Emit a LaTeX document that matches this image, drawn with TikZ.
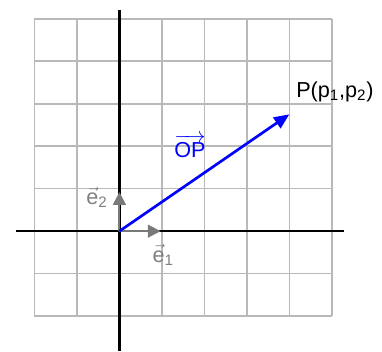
\documentclass[tikz,border=0pt]{standalone}
\usepackage{amsmath}
\usepackage{fontspec}
\setmainfont{Liberation Sans}
\usepackage{tikz}
\usetikzlibrary{arrows.meta, positioning}

\begin{document}
\begin{tikzpicture}[
    gridline/.style={draw=gray!55, line width=1.1pt},
    axis/.style={draw=black, line width=1.7pt},
    unitvec/.style={-{Triangle[length=0.3cm, width=0.3cm]}, draw=gray!95!black, fill=gray, line width=1.4pt},
    posvec/.style={-{Triangle[length=0.36cm, width=0.3cm]}, draw=blue, line width=1.8pt},
    lbl/.style={font=\fontsize{14.5}{17}\selectfont, inner sep=1pt}
]
\useasboundingbox (-2.81,-2.83) rectangle (6.18,5.44);

% === GRID ===
\draw[gridline] (-2,-2) grid (5,5);

% === AXES ===
\coordinate (O) at (0,0);
\coordinate (xl) at (-2.43,0);
\coordinate (xr) at (5.29,0);
\coordinate (yb) at (0,-2.83);
\coordinate (yt) at (0,5.2);
\draw[axis] (xl) -- (xr);
\draw[axis] (yb) -- (yt);

% === UNIT VECTORS ===
\coordinate (e1) at (0.97,0);
\coordinate (e2) at (0,0.92);
\draw[unitvec] (O) -- (e1);
\draw[unitvec] (O) -- (e2);
\node[lbl, text=gray] (e1lbl) at (1.03,-0.56) {$\vec{\text{e}}_{\text{1}}$};
\node[lbl, text=gray] (e2lbl) at (-0.53,0.8) {$\vec{\text{e}}_{\text{2}}$};

% === POSITION VECTOR ===
\coordinate (P) at (4,2.75);
\draw[posvec] (O) -- (P);
\node[lbl, text=blue] (oplbl) at (1.66,2.0) {$\overrightarrow{\text{OP}}$};
\node[lbl, anchor=south west] (plbl) at (4.12,3.0) {P(p$_{\text{1}}$,p$_{\text{2}}$)};

\end{tikzpicture}
\end{document}
